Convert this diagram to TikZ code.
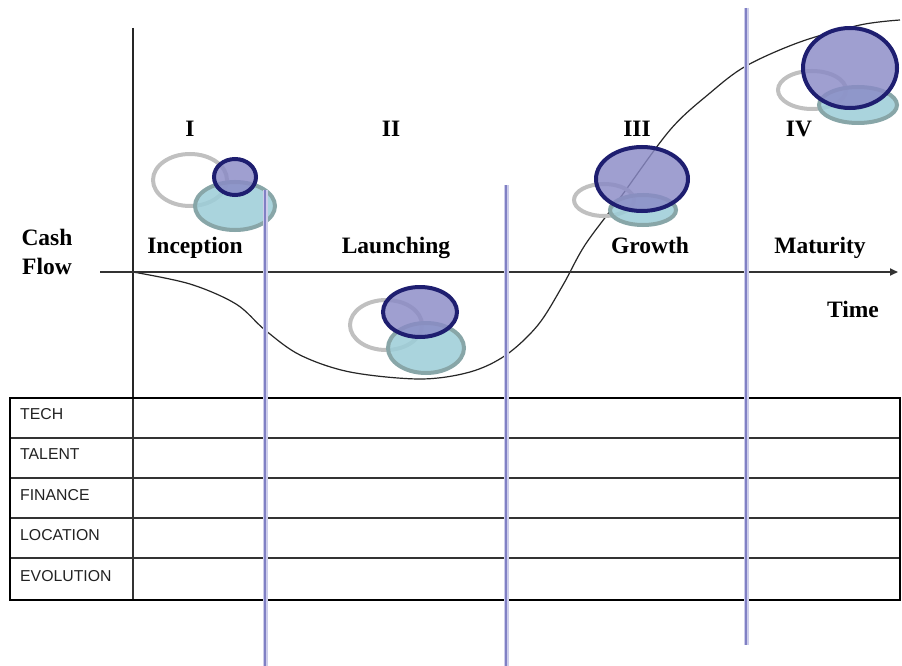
\documentclass[tikz,border=0pt]{standalone}
\usepackage{fontspec}
\setmainfont{Liberation Serif}
\newfontfamily\sansf{Liberation Sans}
\usetikzlibrary{arrows.meta}
\definecolor{navyline}{HTML}{1E1E70}
\definecolor{navyfill}{HTML}{8A8AC6}
\definecolor{tealfill}{HTML}{9CCDD8}
\definecolor{tealline}{HTML}{88A6A8}
\definecolor{grayring}{HTML}{C0C0C0}
\definecolor{phaseblue}{HTML}{8080C4}
\definecolor{phaseglow}{HTML}{CDCDEA}
\definecolor{labelgray}{HTML}{222222}
\tikzset{
  ttl/.style={font=\fontsize{23.5}{25}\selectfont\bfseries, inner sep=0pt, anchor=base},
  rowlabel/.style={font=\sansf\fontsize{15.8}{17}\selectfont, text=labelgray, inner sep=0pt, anchor=base west},
  ring/.style={draw=grayring, line width=4pt},
  tealell/.style={draw=tealline, fill=tealfill, fill opacity=0.85, line width=4pt},
  navyell/.style={draw=navyline, fill=navyfill, fill opacity=0.82, line width=4pt},
  phaseglowline/.style={draw=phaseglow, line width=5pt},
  phaseline/.style={draw=phaseblue, line width=2.4pt},
  gridline/.style={draw=black!80, line width=1.3pt},
}
\begin{document}
\begin{tikzpicture}[x=1pt,y=-1pt]
\useasboundingbox[fill=white] (0,0) rectangle (902,666);

% curve
\draw[black!85, line width=1.2pt] plot[smooth, tension=0.55] coordinates {
 (133,272) (190,284) (236,304) (265,330) (300,355) (350,372) (420,379)
 (470,372) (506,355) (538,325) (563,285) (585,245) (620,198) (670,130)
 (710,93) (746,66) (800,42) (860,25) (900,20)};

% axes
\coordinate (yTop) at (133,28);
\coordinate (yBot) at (133,479);
\coordinate (xL) at (100,272);
\coordinate (xR) at (898,272);
\draw[black!85, line width=1.8pt] (yTop) -- (yBot);
\draw[black!80, line width=1.8pt, -{Triangle[length=8pt,width=7pt]}] (xL) -- (xR);

% table
\coordinate (tNW) at (10,398);
\coordinate (tSE) at (900,600);
\foreach \y/\n in {438/r1,478/r2,518/r3,558/r4}{
  \coordinate (\n L) at (10,\y);
  \coordinate (\n R) at (900,\y);
  \draw[gridline] (\n L) -- (\n R);
}
\coordinate (cTop) at (133,398);
\coordinate (cBot) at (133,600);
\draw[gridline] (cTop) -- (cBot);
\draw[black, line width=2.6pt] (tNW) rectangle (tSE);

% row labels
\node[rowlabel] (tech) at (20,419) {TECH};
\node[rowlabel] (talent) at (20,459) {TALENT};
\node[rowlabel] (finance) at (20,500) {FINANCE};
\node[rowlabel] (location) at (20,540) {LOCATION};
\node[rowlabel] (evolution) at (20,581) {EVOLUTION};

% ellipses phase I
\draw[ring] (190,180) ellipse [x radius=37pt, y radius=26pt];
\draw[tealell] (235,206) ellipse [x radius=40pt, y radius=24pt];
\draw[navyell] (235,177) ellipse [x radius=21pt, y radius=18pt];
% phase II
\draw[ring] (386,325) ellipse [x radius=36pt, y radius=25pt];
\draw[tealell] (426,348) ellipse [x radius=38pt, y radius=25pt];
\draw[navyell] (420,312) ellipse [x radius=37pt, y radius=25pt];
% phase III
\draw[ring] (604,200) ellipse [x radius=30pt, y radius=16pt];
\draw[tealell] (643,210) ellipse [x radius=33pt, y radius=15pt];
\draw[navyell] (642,179) ellipse [x radius=46pt, y radius=32pt];
% phase IV
\draw[ring] (812,90) ellipse [x radius=34pt, y radius=19pt];
\draw[tealell] (858,105) ellipse [x radius=39pt, y radius=18pt];
\draw[navyell] (850,68) ellipse [x radius=47pt, y radius=40pt];

% phase separator lines
\foreach \x/\t/\b/\n in {265/190/666/pa,506/185/666/pb,746/8/645/pc}{
  \coordinate (\n T) at (\x,\t);
  \coordinate (\n B) at (\x,\b);
  \draw[phaseglowline] (\n T) -- (\n B);
  \draw[phaseline] (\n T) -- (\n B);
}

% titles
\node[ttl] (rI) at (190,136) {I};
\node[ttl] (rII) at (391,136) {II};
\node[ttl] (rIII) at (637,136) {III};
\node[ttl] (rIV) at (799,136) {IV};
\node[ttl] (inc) at (195,253) {Inception};
\node[ttl] (lau) at (396,253) {Launching};
\node[ttl] (gro) at (650,253) {Growth};
\node[ttl] (mat) at (820,253) {Maturity};
\node[ttl] (cash) at (47,245) {Cash};
\node[ttl] (flow) at (47,274) {Flow};
\node[ttl] (time) at (853,317) {Time};
\end{tikzpicture}
\end{document}
